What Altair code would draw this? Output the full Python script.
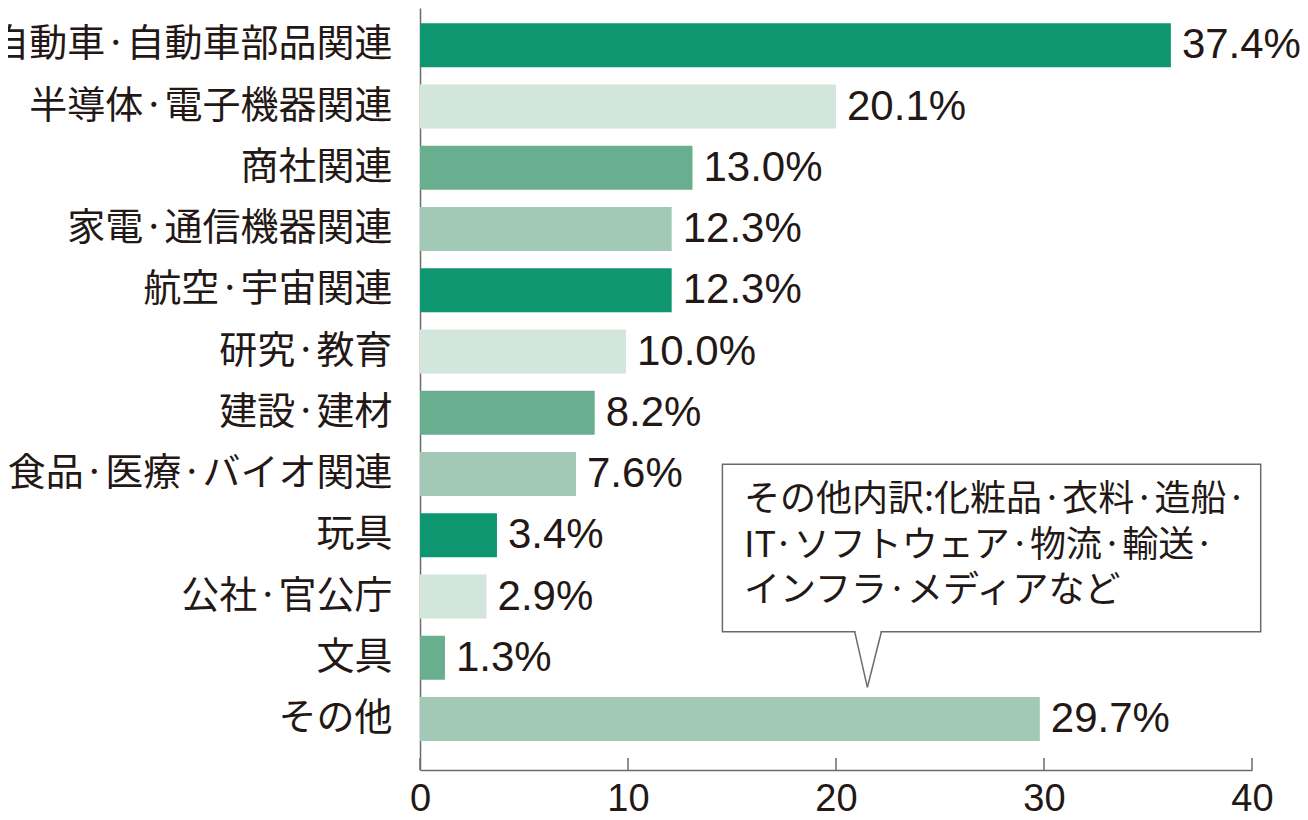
import altair as alt
import pandas as pd

# ---- data ----
categories = [
    "自動車·自動車部品関連",
    "半導体·電子機器関連",
    "商社関連",
    "家電·通信機器関連",
    "航空·宇宙関連",
    "研究·教育",
    "建設·建材",
    "食品·医療·バイオ関連",
    "玩具",
    "公社·官公庁",
    "文具",
    "その他",
]
label_values = [37.4, 20.1, 13.0, 12.3, 12.3, 10.0, 8.2, 7.6, 3.4, 2.9, 1.3, 29.7]
# bar lengths as drawn in the picture (the first bar is drawn shorter than its label)
bar_lengths = [36.1, 20.0, 13.1, 12.1, 12.1, 9.9, 8.4, 7.5, 3.7, 3.2, 1.2, 29.8]
shade_cycle = ["#0e9670", "#d2e6dc", "#6aae90", "#a2c9b6"]
x_ticks = [0, 10, 20, 30, 40]
note_lines = [
    "その他内訳:化粧品·衣料·造船·",
    "IT·ソフトウェア·物流·輸送·",
    "インフラ·メディアなど",
]

TEXT = "#231815"
GRAY = "#6b6b6b"
W, H = 832, 762

df = pd.DataFrame({
    "category": categories,
    "value": bar_lengths,
    "label": [f"{v:.1f}%" for v in label_values],
    "shade": [shade_cycle[i % 4] for i in range(len(categories))],
})

xscale = alt.Scale(domain=[0, 40], nice=False, zero=True)
yscale = alt.Scale(domain=categories, paddingInner=0.2816, paddingOuter=0.3612, align=0.346)

x_axis = alt.Axis(title=None, values=x_ticks, ticks=False, grid=False,
                  labelFont="Liberation Sans", labelFontSize=38, labelColor=TEXT,
                  labelPadding=10, domainColor=GRAY, domainWidth=1.5,
                  format="d", labelFlush=False, labelOverlap=False)
y_axis = alt.Axis(title=None, ticks=False, domain=True, domainColor=GRAY,
                  domainWidth=1.5, labelFont="Noto Sans CJK JP", labelFontSize=38,
                  labelColor=TEXT, labelPadding=28, labelLimit=800)

base = alt.Chart(df)

bars = base.mark_bar().encode(
    y=alt.Y("category:N", scale=yscale, sort=categories, axis=y_axis),
    x=alt.X("value:Q", scale=xscale, axis=x_axis),
    color=alt.Color("shade:N", scale=None),
)

values_text = base.mark_text(align="left", baseline="middle", dx=11,
                             font="Liberation Sans", fontSize=42, color=TEXT).encode(
    y=alt.Y("category:N", scale=yscale, sort=categories, axis=y_axis),
    x=alt.X("value:Q", scale=xscale, axis=x_axis),
    text="label:N",
)

tick_df = pd.DataFrame({"t": x_ticks})
ticks = alt.Chart(tick_df).mark_rule(color=GRAY, strokeWidth=1.5).encode(
    x=alt.X("t:Q", scale=xscale, axis=x_axis),
    y=alt.value(H - 12),
    y2=alt.value(H),
)

one = pd.DataFrame({"a": [0]})
box = alt.Chart(one).mark_rect(fill="white", stroke=GRAY, strokeWidth=1.5).encode(
    x=alt.value(302.4), x2=alt.value(840.7), y=alt.value(456.3), y2=alt.value(623.7)
)
cover = alt.Chart(one).mark_rule(color="white", strokeWidth=3).encode(
    x=alt.value(435.6), x2=alt.value(460.5), y=alt.value(623.7), y2=alt.value(623.7)
)
ptr_left = alt.Chart(one).mark_rule(color=GRAY, strokeWidth=1.5).encode(
    x=alt.value(434.7), x2=alt.value(447.4), y=alt.value(623.7), y2=alt.value(679.3)
)
ptr_right = alt.Chart(one).mark_rule(color=GRAY, strokeWidth=1.5).encode(
    x=alt.value(461.4), x2=alt.value(447.4), y=alt.value(623.7), y2=alt.value(679.3)
)
note = alt.Chart(one).mark_text(align="left", baseline="middle", lineHeight=45.5,
                                font="Noto Sans CJK JP", fontSize=36, color=TEXT).encode(
    x=alt.value(324), y=alt.value(492), text=alt.value(note_lines)
)

chart = alt.layer(bars, values_text, ticks, box, cover, ptr_left, ptr_right, note).properties(
    width=W, height=H,
    autosize=alt.AutoSizeParams(type="none"),
    padding={"left": 412, "top": 0, "right": 48, "bottom": 42},
).configure_view(stroke=None)

chart.save("out.html", embed_options={"renderer": "svg", "actions": False})
